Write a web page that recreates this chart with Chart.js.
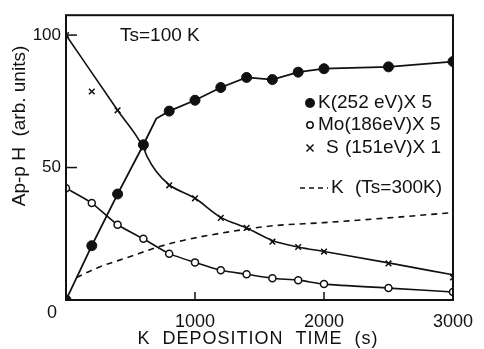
<!DOCTYPE html>
<html>
<head>
<meta charset="utf-8">
<script src="https://cdn.jsdelivr.net/npm/chart.js@4.4.1/dist/chart.umd.min.js"></script>
<style>
  html, body { margin: 0; background: #fff; }
  #wrap { width: 484px; height: 349px; }
</style>
</head>
<body>
<div id="wrap"><canvas id="chart"></canvas></div>
<script>
// K (252 eV) x5, filled circles, and the drawn curve with its bend
const kTime = [0, 200, 400, 600, 800, 1000, 1200, 1400, 1600, 1800, 2000, 2500, 3000];
const kValue = [0, 20.5, 40, 58.6, 71.3, 75.4, 80.2, 84, 83.2, 86, 87.3, 88, 90];
const kCurveTime = [0, 200, 400, 600, 700, 800, 1000, 1200, 1400, 1600, 1800, 2000, 2500, 3000];
const kCurveValue = [0, 20.5, 40, 58.6, 68.5, 71.3, 75.4, 80.2, 84, 83.2, 86, 87.3, 88, 90];

// Mo (186 eV) x5, open circles
const moTime = [0, 200, 400, 600, 800, 1000, 1200, 1400, 1600, 1800, 2000, 2500, 3000];
const moValue = [42.2, 36.6, 28.4, 23.1, 17.5, 14.2, 11.2, 9.7, 8.2, 7.5, 6, 4.5, 3];

// S (151 eV) x1, crosses, and the fitted curve
const sTime = [0, 200, 400, 600, 800, 1000, 1200, 1400, 1600, 1800, 2000, 2500, 3000];
const sValue = [100, 78.7, 71.6, 57.5, 43.3, 38.4, 31, 27.2, 22, 20, 18.3, 13.8, 8.5];
const sCurveTime = [0, 400, 600, 630, 700, 800, 1000, 1200, 1400, 1600, 1800, 2000, 2500, 3000];
const sCurveValue = [100, 71.6, 57.5, 54, 48.5, 43.5, 38.4, 31.2, 27.2, 22.5, 20, 18.3, 14, 9.5];

// K at Ts = 300 K, dashed, no markers
const k300Time = [80, 250, 500, 700, 900, 1300, 1600, 2000, 2500, 3000];
const k300Value = [8.5, 12.3, 16.4, 19.8, 22.4, 26, 28, 29.2, 31, 33];

const xTicks = [0, 1000, 2000, 3000];
const yTicks = [0, 50, 100];

const FONT = '"Liberation Sans", Arial, sans-serif';
const INK = '#111';

function pts(xs, ys) {
  return xs.map((x, i) => ({ x: x, y: ys[i] }));
}

const decor = {
  id: 'decor',
  afterDraw(chart) {
    const ctx = chart.ctx;
    const a = chart.chartArea;
    const xs = chart.scales.x, ys = chart.scales.y;
    ctx.save();
    // frame
    ctx.strokeStyle = INK;
    ctx.lineWidth = 2;
    ctx.strokeRect(a.left, a.top, a.right - a.left, a.bottom - a.top);
    // inward ticks
    ctx.lineWidth = 1.5;
    [50, 100].forEach(v => {
      const y = ys.getPixelForValue(v);
      ctx.beginPath(); ctx.moveTo(a.left, y); ctx.lineTo(a.left + 11, y); ctx.stroke();
    });
    [1000, 2000].forEach(v => {
      const x = xs.getPixelForValue(v);
      ctx.beginPath(); ctx.moveTo(x, a.bottom); ctx.lineTo(x, a.bottom - 8); ctx.stroke();
    });

    ctx.fillStyle = INK;
    ctx.textBaseline = 'middle';
    // corner zero
    ctx.textAlign = 'center';
    ctx.font = '18px ' + FONT;
    ctx.fillText('0', a.left - 14, a.bottom + 13);

    // x title
    ctx.save();
    ctx.font = '18px ' + FONT;
    ctx.letterSpacing = '1px';
    ctx.fillText('K  DEPOSITION  TIME  (s)', 258, 339);
    ctx.restore();

    // y title
    ctx.save();
    ctx.translate(20, 126);
    ctx.rotate(-Math.PI / 2);
    ctx.textAlign = 'center';
    ctx.font = '19px ' + FONT;
    ctx.fillText('Ap-p H  (arb. units)', 0, 0);
    ctx.restore();

    // in-plot labels
    ctx.textAlign = 'left';
    ctx.font = '19px ' + FONT;
    ctx.fillText('Ts=100 K', 120, 36);

    // legend row 1
    ctx.beginPath(); ctx.arc(310, 103, 5, 0, Math.PI * 2); ctx.fill();
    ctx.fillText('K(252 eV)X 5', 318, 103);
    // row 2
    ctx.lineWidth = 1.5;
    ctx.beginPath(); ctx.arc(310, 125, 3.2, 0, Math.PI * 2); ctx.stroke();
    ctx.fillText('Mo(186eV)X 5', 318, 125);
    // row 3
    ctx.beginPath();
    ctx.moveTo(306.5, 144.5); ctx.lineTo(313.5, 151.5);
    ctx.moveTo(313.5, 144.5); ctx.lineTo(306.5, 151.5);
    ctx.stroke();
    ctx.fillText('S', 326, 148);
    ctx.fillText('(151eV)X 1', 345, 148);
    // row 4
    ctx.setLineDash([5, 4]);
    ctx.beginPath(); ctx.moveTo(300, 188); ctx.lineTo(328, 188); ctx.stroke();
    ctx.setLineDash([]);
    ctx.fillText('K', 331, 188);
    ctx.fillText('(Ts=300K)', 355, 188);
    ctx.restore();
  }
};

new Chart(document.getElementById('chart'), {
  type: 'line',
  data: {
    datasets: [
      {
        label: 'K curve',
        data: pts(kCurveTime, kCurveValue),
        borderColor: INK, borderWidth: 1.8, pointRadius: 0, tension: 0
      },
      {
        label: 'K(252 eV)X 5',
        data: pts(kTime, kValue),
        showLine: false, pointRadius: 5, pointBackgroundColor: INK, pointBorderColor: INK
      },
      {
        label: 'Mo(186eV)X 5',
        data: pts(moTime, moValue),
        borderColor: INK, borderWidth: 1.6, tension: 0.2,
        pointRadius: 3.5, pointBorderWidth: 1.5,
        pointBackgroundColor: '#fff', pointBorderColor: INK
      },
      {
        label: 'S curve',
        data: pts(sCurveTime, sCurveValue),
        borderColor: INK, borderWidth: 1.6, pointRadius: 0,
        cubicInterpolationMode: 'monotone'
      },
      {
        label: 'S (151eV)X 1',
        data: pts(sTime, sValue),
        showLine: false, pointStyle: 'crossRot', pointRadius: 4,
        pointBorderWidth: 1.5, pointBorderColor: INK
      },
      {
        label: 'K (Ts=300K)',
        data: pts(k300Time, k300Value),
        borderColor: INK, borderWidth: 1.6, borderDash: [6, 5],
        pointRadius: 0, cubicInterpolationMode: 'monotone'
      }
    ]
  },
  plugins: [decor],
  options: {
    responsive: true,
    maintainAspectRatio: false,
    animation: false,
    events: [],
    layout: { padding: { left: 0, right: 17, top: 12, bottom: 0 } },
    plugins: { legend: { display: false }, tooltip: { enabled: false } },
    scales: {
      x: {
        type: 'linear', min: 0, max: 3000,
        afterBuildTicks: s => { s.ticks = xTicks.map(v => ({ value: v })); },
        afterFit: s => { s.height = 49; },
        grid: { display: false, drawTicks: false },
        border: { display: false },
        ticks: {
          color: INK, font: { family: FONT, size: 18 }, padding: 11, maxRotation: 0,
          callback: v => (v === 0 ? '' : String(v))
        }
      },
      y: {
        min: 0, max: 107.5,
        afterBuildTicks: s => { s.ticks = yTicks.map(v => ({ value: v })); },
        afterFit: s => { s.width = 66; },
        grid: { display: false, drawTicks: false },
        border: { display: false },
        ticks: {
          color: INK, font: { family: FONT, size: 17 }, padding: 5,
          callback: v => (v === 0 ? '' : String(v))
        }
      }
    }
  }
});
</script>
</body>
</html>
